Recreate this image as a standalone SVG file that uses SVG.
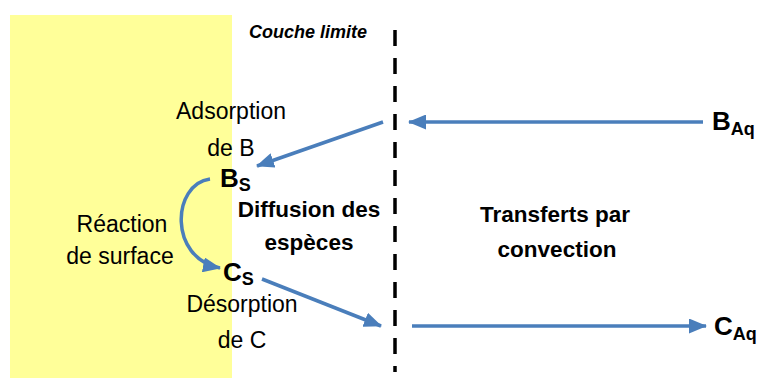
<svg xmlns="http://www.w3.org/2000/svg" width="761" height="378" viewBox="0 0 761 378">
<style>
.t{font-family:"Liberation Sans","DejaVu Sans",sans-serif;fill:#000}
.n{font-size:23px}
.b{font-size:22.5px;font-weight:bold}
.big{font-size:26px;font-weight:bold}
.sub{font-size:18px;font-weight:bold}
.arr{stroke:#4a7ebb;stroke-width:3.5;fill:none}
</style>
<defs>
<marker id="a" viewBox="0 0 18 15" refX="17" refY="7.5" markerWidth="18" markerHeight="15" markerUnits="userSpaceOnUse" orient="auto">
<path d="M0,0 L18,7.5 L0,15 z" fill="#4a7ebb"/>
</marker>
</defs>
<rect id="surface" x="10" y="15" width="222" height="363" fill="#ffff99"/>
<g id="boundary">
<line x1="395" y1="30" x2="395" y2="372" stroke="#000" stroke-width="3.5" stroke-dasharray="16 12"/>
<text class="t" x="249" y="38" font-size="18" font-weight="bold" font-style="italic">Couche limite</text>
</g>
<g id="connectors">
<line class="arr" x1="383" y1="122" x2="257" y2="166" marker-end="url(#a)"/>
<line class="arr" x1="703" y1="122" x2="409" y2="122" marker-end="url(#a)"/>
<path class="arr" d="M210,179 C172,184 168,258 220,268" marker-end="url(#a)"/>
<line class="arr" x1="262" y1="279" x2="381" y2="326" marker-end="url(#a)"/>
<line class="arr" x1="412" y1="326" x2="706" y2="326" marker-end="url(#a)"/>
</g>
<g id="adsorption">
<text class="t n" x="231" y="119" text-anchor="middle">Adsorption</text>
<text class="t n" x="231" y="156" text-anchor="middle">de B</text>
</g>
<g id="Bs"><text class="t big" x="220" y="187">B<tspan class="sub" dy="4">S</tspan></text></g>
<g id="reaction">
<text class="t n" x="122" y="232" text-anchor="middle">Réaction</text>
<text class="t n" x="120" y="264" text-anchor="middle">de surface</text>
</g>
<g id="diffusion">
<text class="t b" x="309" y="217" text-anchor="middle">Diffusion des</text>
<text class="t b" x="309" y="250" text-anchor="middle">espèces</text>
</g>
<g id="Cs"><text class="t big" x="223" y="281">C<tspan class="sub" dy="4">S</tspan></text></g>
<g id="desorption">
<text class="t n" x="242" y="312" text-anchor="middle">Désorption</text>
<text class="t n" x="242" y="348" text-anchor="middle">de C</text>
</g>
<g id="convection">
<text class="t b" x="555" y="222" text-anchor="middle">Transferts par</text>
<text class="t b" x="557" y="257" text-anchor="middle">convection</text>
</g>
<g id="BAq"><text class="t big" x="712" y="130">B<tspan class="sub" dy="5">Aq</tspan></text></g>
<g id="CAq"><text class="t big" x="714" y="335">C<tspan class="sub" dy="5">Aq</tspan></text></g>
</svg>
